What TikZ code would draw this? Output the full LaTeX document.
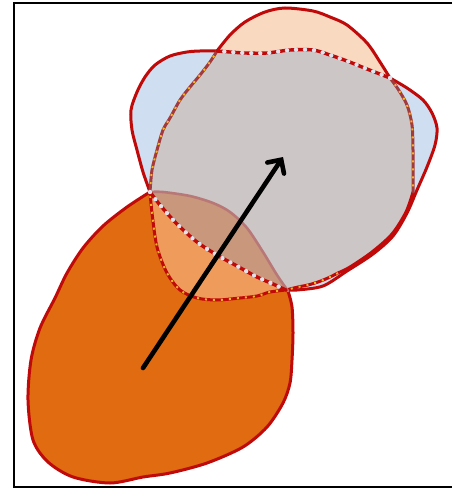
\documentclass[tikz,border=0pt]{standalone}
\usetikzlibrary{arrows.meta}
\definecolor{blueF}{HTML}{CFDEF0}
\definecolor{peachF}{HTML}{FAD9C1}
\definecolor{greyF}{HTML}{CDC6C6}
\definecolor{orangeF}{HTML}{E06B10}
\definecolor{lorangeF}{HTML}{EE9B5C}
\definecolor{brownF}{HTML}{C9977B}
\definecolor{redL}{HTML}{C00A0A}
\definecolor{maroonL}{HTML}{A23A3E}
\definecolor{pinkL}{HTML}{B87878}
\definecolor{dotW}{HTML}{DDE2EC}
\definecolor{dotY}{HTML}{F5B420}
\tikzset{
  outline/.style={draw=redL, line width=3pt, line join=round, line cap=round},
  wbase/.style={draw=redL, line width=3.4pt, line cap=round},
  wdots/.style={draw=dotW, line width=4.4pt, line cap=round, dash pattern=on 0pt off 9pt},
  ybase/.style={line width=3pt, line cap=round},
  ydots/.style={draw=dotY, line width=2pt, dash pattern=on 2pt off 6pt},
}
\begin{document}
\begin{tikzpicture}[x=1pt,y=-1pt]
\useasboundingbox (0,0) rectangle (452,489);
% segment definitions
\def\blueTL{(217,51) (200,51) (187,52) (170,56) (155,65) (145,77) (137,92) (131,110) (132,130) (137,150) (143,172) (150,192)}
\def\blueLL{(150,192) (160,205) (177,224) (197,242) (217,255) (237,266) (257,277) (273,284) (286,290)}
\def\blueLLr{(286,290) (273,284) (257,277) (237,266) (217,255) (197,242) (177,224) (160,205) (150,192)}
\def\blueBR{(286,290) (297,290) (323,286) (347,271) (373,254) (393,236) (407,213) (417,190) (427,167) (435,145) (437,128) (432,113) (423,100) (407,88) (390,78)}
\def\blueTop{(390,78) (367,69) (347,61) (330,55) (313,50) (290,50) (267,53) (245,53) (230,52) (217,51)}
\def\blueTopr{(217,51) (230,52) (245,53) (267,53) (290,50) (313,50) (330,55) (347,61) (367,69) (390,78)}
\def\peachTop{(217,51) (230,35) (245,22) (265,12) (285,8) (313,11) (330,17) (347,25) (367,43) (380,62) (390,78)}
\def\peachR{(390,78) (398,89) (407,105) (412,125) (413,150) (413,170) (413,192)}
\def\peachLR{(413,192) (406,212) (392,234) (372,252) (350,267) (338,273) (328,278) (318,282) (308,285) (298,287) (286,290)}
\def\peachLL{(286,290) (270,292) (257,296) (240,298) (217,300) (197,298) (180,290) (167,273) (157,247) (152,213) (150,192)}
\def\peachL{(150,192) (152,170) (157,150) (163,130) (170,118) (180,100) (190,87) (200,75) (210,62) (217,51)}
\def\orangeTop{(150,192) (163,192) (190,196) (213,203) (230,212) (247,228) (263,252) (277,275) (288,291)}
\def\orangeOut{(288,291) (292,307) (293,333) (292,360) (290,383) (283,403) (267,427) (243,447) (207,463) (170,473) (143,477) (110,483) (73,477) (48,462) (33,440) (28,400) (31,360) (40,328) (55,298) (67,273) (83,248) (103,226) (127,207) (150,192)}
% frame
\draw[line width=2pt] (452,3) -- (14,3) -- (14,487) -- (452,487);
% blue shape
\fill[blueF] plot[smooth] coordinates {\blueTL} -- plot[smooth] coordinates {\blueLL} -- plot[smooth] coordinates {\blueBR} -- plot[smooth] coordinates {\blueTop} -- cycle;
% peach shape
\fill[peachF] plot[smooth] coordinates {\peachTop} -- plot[smooth] coordinates {\peachR} -- plot[smooth] coordinates {\peachLR} -- plot[smooth] coordinates {\peachLL} -- plot[smooth] coordinates {\peachL} -- cycle;
% grey intersection
\fill[greyF] plot[smooth] coordinates {\blueTopr} -- plot[smooth] coordinates {\peachR} -- plot[smooth] coordinates {\peachLR} -- plot[smooth] coordinates {\blueLLr} -- plot[smooth] coordinates {\peachL} -- cycle;
% orange shape
\fill[orangeF] plot[smooth] coordinates {\orangeTop} -- plot[smooth] coordinates {\orangeOut} -- cycle;
\fill[lorangeF] plot[smooth] coordinates {\blueLL} -- plot[smooth] coordinates {\peachLL} -- cycle;
\fill[brownF] plot[smooth] coordinates {\orangeTop} -- plot[smooth] coordinates {\blueLLr} -- cycle;
% outer outlines
\draw[outline] plot[smooth] coordinates {\blueTL};
\draw[outline] plot[smooth] coordinates {\blueBR};
\draw[outline] plot[smooth] coordinates {\peachTop};
\draw[outline] plot[smooth] coordinates {\peachLR};
\draw[outline] plot[smooth] coordinates {\orangeOut};
\draw[draw=pinkL, line width=2.6pt, line cap=round] plot[smooth] coordinates {\orangeTop};
% peach boundary inside blue / orange (yellow dots)
\draw[ybase, draw=maroonL] plot[smooth] coordinates {\peachL};
\draw[ybase, draw=maroonL] plot[smooth] coordinates {\peachR};
\draw[ybase, draw=redL] plot[smooth] coordinates {\peachLL};
\draw[ydots] plot[smooth] coordinates {\peachL};
\draw[ydots] plot[smooth] coordinates {\peachR};
\draw[ydots] plot[smooth] coordinates {\peachLL};
\draw[ydots] plot[smooth] coordinates {(338,273) (328,278) (318,282) (308,285) (298,287) (286,290)};
% blue boundary inside peach (white dots)
\draw[wbase] plot[smooth] coordinates {\blueTop};
\draw[wbase] plot[smooth] coordinates {\blueLL};
\draw[wdots] plot[smooth] coordinates {\blueTop};
\draw[wdots] plot[smooth] coordinates {\blueLL};
% arrow
\coordinate (s) at (143,368);
\coordinate (t) at (283,157);
\draw[line width=4.6pt, line cap=round, -{Straight Barb[length=10pt,width=20pt,line cap=round]}] (s) -- (t);
\end{tikzpicture}
\end{document}
